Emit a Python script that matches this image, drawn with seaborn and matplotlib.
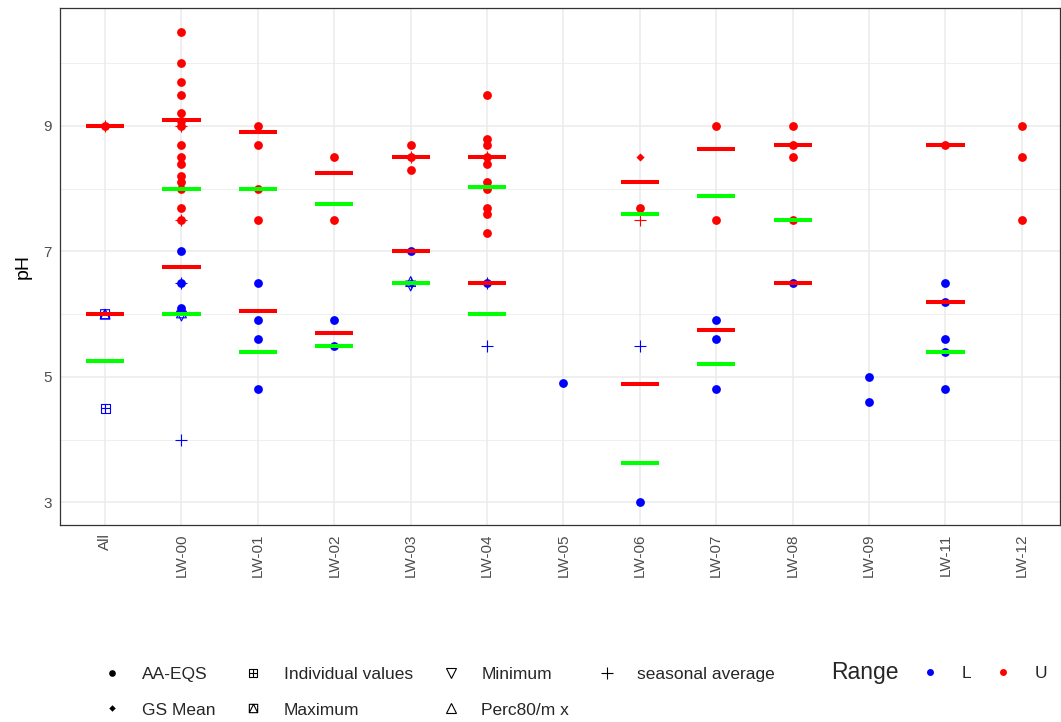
import numpy as np
import pandas as pd
import matplotlib
matplotlib.use("Agg")
import matplotlib.pyplot as plt
from matplotlib.path import Path
from matplotlib.lines import Line2D
import seaborn as sns

# ---- categories -------------------------------------------------------------
sites = ["All", "LW-00", "LW-01", "LW-02", "LW-03", "LW-04", "LW-05",
         "LW-06", "LW-07", "LW-08", "LW-09", "LW-11", "LW-12"]

# ---- point data: {site: [pH values]} per statistic and range ---------------
aa_eqs_U = {
    "All": [9.0],
    "LW-00": [10.5, 10.0, 9.7, 9.5, 9.2, 9.08, 9.0, 8.7, 8.5, 8.4, 8.2, 8.1, 8.0, 7.7, 7.5],
    "LW-01": [9.0, 8.7, 8.0, 7.5],
    "LW-02": [8.5, 7.5],
    "LW-03": [8.7, 8.5, 8.3],
    "LW-04": [9.5, 8.8, 8.7, 8.5, 8.4, 8.1, 8.0, 7.7, 7.6, 7.3],
    "LW-06": [7.7],
    "LW-07": [9.0, 7.5],
    "LW-08": [9.0, 8.7, 8.5, 7.5],
    "LW-11": [8.7],
    "LW-12": [9.0, 8.5, 7.5],
}
aa_eqs_L = {
    "LW-00": [7.0, 6.5, 6.1, 6.05],
    "LW-01": [6.5, 5.9, 5.6, 4.8],
    "LW-02": [5.9, 5.5],
    "LW-03": [7.0],
    "LW-04": [6.5],
    "LW-05": [4.9],
    "LW-06": [3.0],
    "LW-07": [5.9, 5.6, 4.8],
    "LW-08": [6.5],
    "LW-09": [5.0, 4.6],
    "LW-11": [6.5, 6.2, 5.6, 5.4, 4.8],
}
gs_mean_U = {"All": [9.0], "LW-00": [7.5], "LW-03": [8.5], "LW-06": [8.5]}
gs_mean_L = {"LW-00": [6.5], "LW-03": [6.5], "LW-04": [6.5]}
indiv_L = {"All": [4.5]}
maximum_L = {"All": [6.0]}
minimum_L = {"LW-00": [5.97], "LW-03": [6.45]}
perc80_L = {"All": [6.0], "LW-00": [6.02], "LW-03": [6.52]}
seasonal_U = {"All": [9.0], "LW-00": [9.0, 7.5], "LW-03": [8.5], "LW-04": [8.5], "LW-06": [7.5]}
seasonal_L = {"LW-00": [6.5, 4.0], "LW-03": [6.5], "LW-04": [6.5, 5.5], "LW-06": [5.5]}

# ---- reference levels drawn as short bars ----------------------------------
red_site = ["All", "All", "LW-00", "LW-00", "LW-01", "LW-01", "LW-02", "LW-02",
            "LW-03", "LW-03", "LW-04", "LW-04", "LW-06", "LW-06", "LW-07", "LW-07",
            "LW-08", "LW-08", "LW-11", "LW-11"]
red_value = [9.0, 6.0, 9.1, 6.75, 8.9, 6.05, 8.25, 5.7,
             8.5, 7.0, 8.5, 6.5, 8.1, 4.88, 8.63, 5.75,
             8.7, 6.5, 8.7, 6.2]
green_site = ["All", "LW-00", "LW-00", "LW-01", "LW-01", "LW-02", "LW-02", "LW-03",
              "LW-04", "LW-04", "LW-06", "LW-06", "LW-07", "LW-07", "LW-08", "LW-11"]
green_value = [5.25, 8.0, 6.0, 8.0, 5.4, 7.75, 5.5, 6.5,
               8.03, 6.0, 7.6, 3.63, 7.88, 5.2, 7.5, 5.4]

range_colors = {"L": "#0000FF", "U": "#FF0000"}
pos = {s: i for i, s in enumerate(sites)}


def frame(by_range):
    rows = []
    for rng, d in by_range.items():
        for site, vals in d.items():
            for v in vals:
                rows.append({"site": site, "xpos": pos[site], "pH": v, "Range": rng})
    return pd.DataFrame(rows, columns=["site", "xpos", "pH", "Range"])


def box_path(inner):
    verts = [(-1, -1), (1, -1), (1, 1), (-1, 1), (-1, -1)]
    codes = [Path.MOVETO] + [Path.LINETO] * 3 + [Path.CLOSEPOLY]
    if inner == "plus":
        verts += [(0, -1), (0, 1), (-1, 0), (1, 0)]
        codes += [Path.MOVETO, Path.LINETO, Path.MOVETO, Path.LINETO]
    else:
        verts += [(-1, -1), (0, 1), (1, -1)]
        codes += [Path.MOVETO, Path.LINETO, Path.LINETO]
    return Path(verts, codes)


square_plus = box_path("plus")
square_tri = box_path("tri")

sns.set_style("white")
plt.rcParams["font.family"] = ["Liberation Sans", "DejaVu Sans"]

fig = plt.figure(figsize=(10.61, 7.22), dpi=100)
ax = fig.add_axes([60 / 1061, 197 / 722, 1000 / 1061, 517 / 722])

# (data, marker, size, hollow, linewidth)
layers = [
    (frame({"U": aa_eqs_U, "L": aa_eqs_L}), "o", 40, False, 0),
    (frame({"U": gs_mean_U, "L": gs_mean_L}), "D", 17, False, 0),
    (frame({"L": indiv_L}), square_plus, 42, True, 0.8),
    (frame({"L": maximum_L}), square_tri, 42, True, 0.8),
    (frame({"L": minimum_L}), "v", 50, True, 0.8),
    (frame({"L": perc80_L}), "^", 50, True, 0.8),
    (frame({"U": seasonal_U, "L": seasonal_L}), "+", 80, False, 0.8),
]
for df, marker, size, hollow, lw in layers:
    for rng, col in range_colors.items():
        sub = df[df["Range"] == rng]
        if sub.empty:
            continue
        kw = dict(facecolor="none", edgecolor=col) if hollow else {}
        sns.scatterplot(data=sub, x="xpos", y="pH", marker=marker, s=size,
                        color=col, linewidth=lw, legend=False, ax=ax,
                        zorder=3, **kw)

# short horizontal reference bars, drawn above the points
half = 0.25
rx = np.array([pos[s] for s in red_site])
gx = np.array([pos[s] for s in green_site])
ax.hlines(red_value, rx - half, rx + half, colors="#FF0000", linewidth=2.9, zorder=4)
ax.hlines(green_value, gx - half, gx + half, colors="#00FF00", linewidth=2.9, zorder=4)

# axes styling
ax.set_xlim(-0.59, 12.5)
ax.set_ylim(2.64, 10.88)
ax.set_xticks(range(len(sites)))
ax.set_xticklabels(sites, rotation=90, va="top", ha="center")
ax.set_yticks([3, 5, 7, 9])
ax.set_yticks([4, 6, 8, 10], minor=True)
ax.grid(which="major", color="#EBEBEB", linewidth=1.1, zorder=0)
ax.grid(which="minor", axis="y", color="#EBEBEB", linewidth=0.55, zorder=0)
ax.set_axisbelow(True)
ax.tick_params(axis="both", which="major", length=3, width=0.8, color="#333333",
               labelcolor="#4D4D4D", labelsize=11, pad=3)
ax.tick_params(axis="y", which="minor", length=0)
for sp in ax.spines.values():
    sp.set_color("#333333")
    sp.set_linewidth(0.9)
ax.set_xlabel("")
ax.set_ylabel("pH", fontsize=14, color="black", labelpad=8)

# legend for statistic shapes
def h(marker, ms, hollow=False, mew=0.8):
    return Line2D([], [], linestyle="None", marker=marker, markersize=ms,
                  color="black", markerfacecolor="none" if hollow else "black",
                  markeredgewidth=mew)

shape_handles = [h("o", 4.8, mew=0), h("D", 3.3, mew=0),
                 h(square_plus, 6.0, True), h(square_tri, 6.0, True),
                 h("v", 7.0, True), h("^", 7.0, True), h("+", 8.6)]
shape_labels = ["AA-EQS", "GS Mean", "Individual values", "Maximum",
                "Minimum", "Perc80/m x", "seasonal average"]
fig.legend(shape_handles, shape_labels, ncol=4, loc="center left",
           bbox_to_anchor=(103 / 1061, 1 - 692 / 722), frameon=False,
           fontsize=12.5, handlelength=1.0, handletextpad=1.25,
           columnspacing=1.68, labelspacing=1.2, borderpad=0, borderaxespad=0)

fig.text(831 / 1061, 1 - 673 / 722, "Range", fontsize=16.5, va="center", ha="left")
range_handles = [Line2D([], [], linestyle="None", marker="o", markersize=5,
                        color=range_colors[r], markeredgewidth=0) for r in ["L", "U"]]
fig.legend(range_handles, ["L", "U"], ncol=2, loc="center left",
           bbox_to_anchor=(921 / 1061, 1 - 673 / 722), frameon=False,
           fontsize=12.5, handlelength=1.0, handletextpad=1.35,
           columnspacing=1.3, borderpad=0, borderaxespad=0)

fig.savefig("out.png", dpi=100)
